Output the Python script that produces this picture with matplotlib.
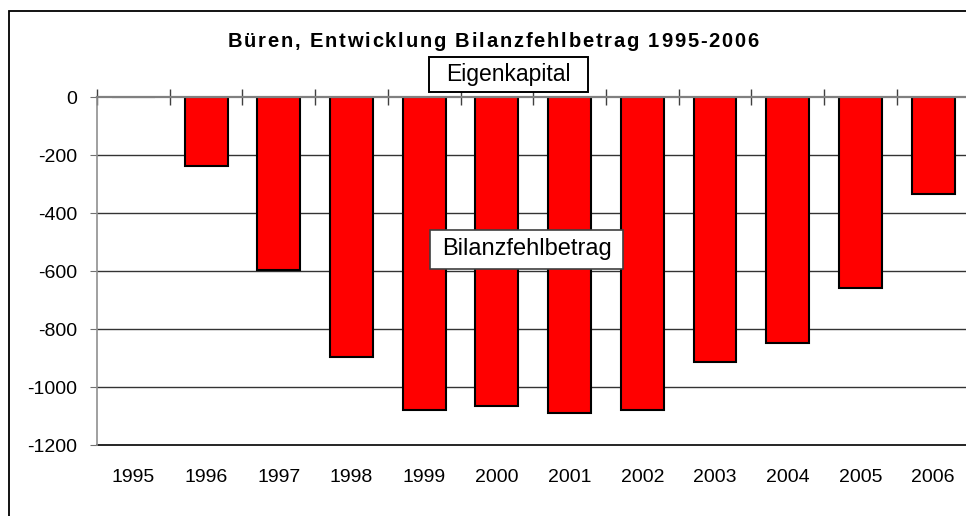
import matplotlib.pyplot as plt
from matplotlib.patches import Rectangle
from matplotlib.font_manager import FontProperties
from matplotlib.textpath import TextToPath

years = ['1995', '1996', '1997', '1998', '1999', '2000',
         '2001', '2002', '2003', '2004', '2005', '2006']
bilanzfehlbetrag = [0, -237, -598, -895, -1079, -1066,
                    -1088, -1079, -913, -849, -657, -336]
y_ticks = [0, -200, -400, -600, -800, -1000, -1200]
title = 'Büren, Entwicklung Bilanzfehlbetrag 1995-2006'

plt.rcParams['font.family'] = ['Liberation Sans', 'DejaVu Sans']

W, H = 966, 516
fig = plt.figure(figsize=(W / 100, H / 100), dpi=100)

# plot area in pixels (runs past the right edge, like the original)
left, right, top, bottom = 97, 969.5, 97, 445
ax = fig.add_axes([left / W, 1 - bottom / H, (right - left) / W, (bottom - top) / H])

x = range(len(years))
ax.bar(x, bilanzfehlbetrag, width=0.59, color='#ff0000', edgecolor='black',
       linewidth=1.5, zorder=3)

ax.set_xlim(-0.5, len(years) - 0.5)
ax.set_ylim(-1200, 0)

# gridlines
for v in y_ticks[1:-1]:
    ax.axhline(v, color='#333333', linewidth=1, zorder=1)
ax.axhline(-1200, color='black', linewidth=1.2, zorder=1, clip_on=False)
ax.axhline(0, color='#808080', linewidth=1.6, zorder=4, clip_on=False)

for s in ['top', 'right', 'bottom']:
    ax.spines[s].set_visible(False)
ax.spines['left'].set_color('#909090')
ax.spines['left'].set_linewidth(1.2)

ax.set_yticks(y_ticks)
ax.set_yticklabels([str(v) for v in y_ticks], fontsize=14)
ax.tick_params(axis='y', length=5, color='#707070', pad=9)

# category boundaries on the zero line, labels below the plot
ax.set_xticks([i - 0.5 for i in range(len(years) + 1)])
ax.set_xticklabels([])
ax.xaxis.set_ticks_position('top')
ax.tick_params(axis='x', which='major', direction='inout', length=12,
               color='#404040', width=1)
for i, yr in enumerate(years):
    ax.text(i, -1200 - 32 / 0.29, yr, fontsize=14, ha='center', va='center',
            clip_on=False)

# title, drawn letter by letter to get the wider spacing of the original
fp = FontProperties(family='Liberation Sans', weight='bold', size=14.5)
t2p = TextToPath()
spacing = 1.8
widths = [t2p.get_text_width_height_descent(c, fp, ismath=False)[0] * 100 / 72
          for c in title]
total = sum(widths) + spacing * (len(title) - 1)
xpos = 493 - total / 2
for c, w in zip(title, widths):
    fig.text(xpos / W, 1 - 47.5 / H, c, fontproperties=fp, ha='left', va='baseline')
    xpos += w + spacing

# label boxes
def label_box(x0, y0, x1, y1, text, fs, ec, lw):
    fig.patches.append(Rectangle((x0 / W, 1 - y1 / H), (x1 - x0) / W, (y1 - y0) / H,
                                 transform=fig.transFigure, facecolor='white',
                                 edgecolor=ec, linewidth=lw, zorder=10))
    fig.text((x0 + x1) / 2 / W, 1 - (y0 + y1) / 2 / H, text, fontsize=fs,
             ha='center', va='center', zorder=11)

label_box(429, 57, 588, 92, 'Eigenkapital', 16.5, 'black', 1.4)
label_box(430, 230, 623, 269, 'Bilanzfehlbetrag', 17, '#404040', 1.2)

# outer chart border (cut off at right and bottom)
fig.patches.append(Rectangle((8.5 / W, -0.1), 1.2, 1.1 - 10.5 / H,
                             transform=fig.transFigure, facecolor='none',
                             edgecolor='black', linewidth=1.3, zorder=20))

fig.savefig('out.png', dpi=100)
